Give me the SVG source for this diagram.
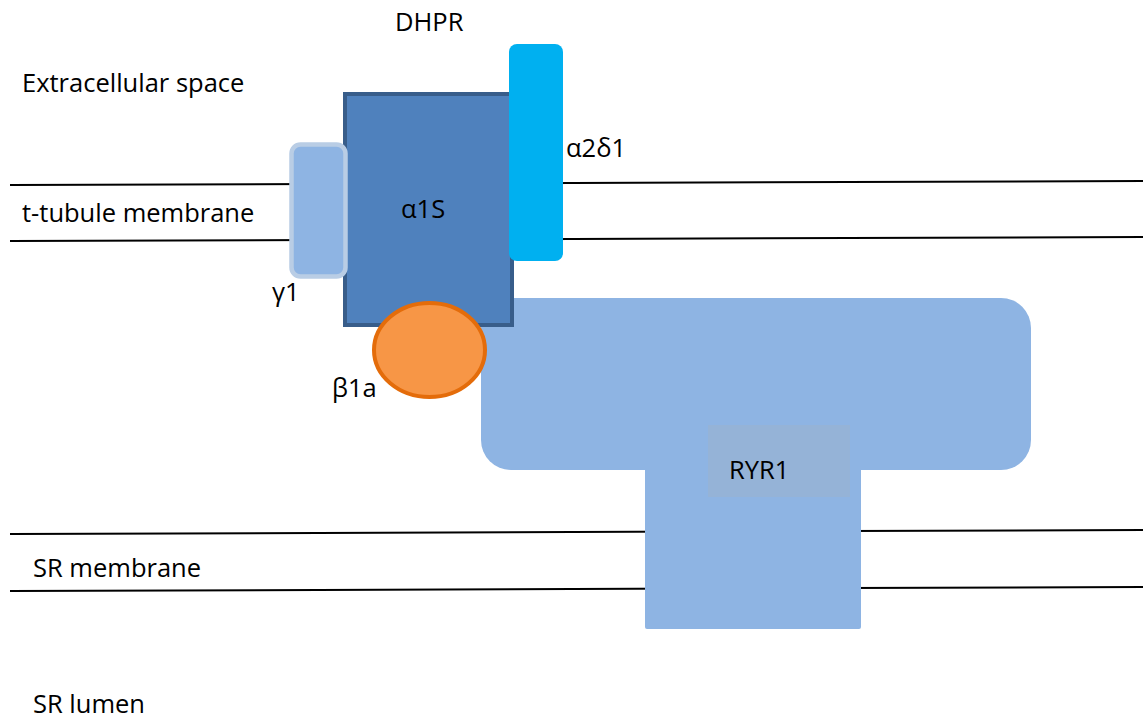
<svg xmlns="http://www.w3.org/2000/svg" width="1143" height="721" viewBox="0 0 1143 721">
<style>
.t{font-family:"Open Sans","Noto Sans","Liberation Sans",sans-serif;font-size:25.5px;fill:#000}
.m{stroke:#000;stroke-width:2;fill:none}
</style>
<rect width="1143" height="721" fill="#fff"/>
<g id="membranes">
<line class="m" x1="10" y1="185" x2="1143" y2="181"/>
<line class="m" x1="10" y1="241" x2="1143" y2="237"/>
<line class="m" x1="10" y1="534" x2="1143" y2="530"/>
<line class="m" x1="10" y1="591" x2="1143" y2="587"/>
</g>
<g id="labels">
<text class="t" x="395" y="31">DHPR</text>
<text class="t" x="22" y="92">Extracellular space</text>
<text class="t" x="22" y="222">t-tubule membrane</text>
<text class="t" x="33" y="577">SR membrane</text>
<text class="t" x="33" y="713">SR lumen</text>
</g>
<g id="ryr1">
<rect x="481" y="298" width="550" height="172" rx="30" fill="#8EB4E3"/>
<rect x="645" y="440" width="216" height="189" rx="2" fill="#8EB4E3"/>
<rect x="708" y="425" width="142" height="72" fill="#95B3D7"/>
<text class="t" x="729" y="479">RYR1</text>
</g>
<g id="a1s">
<rect x="345" y="94" width="167" height="231" fill="#4F81BD" stroke="#385D8A" stroke-width="4"/>
<text class="t" x="401" y="218">α1S</text>
</g>
<g id="g1">
<rect x="291.5" y="144.5" width="54" height="132" rx="9" fill="#8EB4E3" stroke="#B9CDE5" stroke-width="4.5"/>
<text class="t" x="272" y="301">γ1</text>
</g>
<g id="a2d1">
<rect x="509" y="44" width="54" height="217" rx="8" fill="#00B0F0"/>
<text class="t" x="566" y="157">α2δ1</text>
</g>
<g id="b1a">
<ellipse cx="429.5" cy="350" rx="55.5" ry="47" fill="#F79646" stroke="#E46C0A" stroke-width="4"/>
<text class="t" x="332" y="397">β1a</text>
</g>
</svg>
